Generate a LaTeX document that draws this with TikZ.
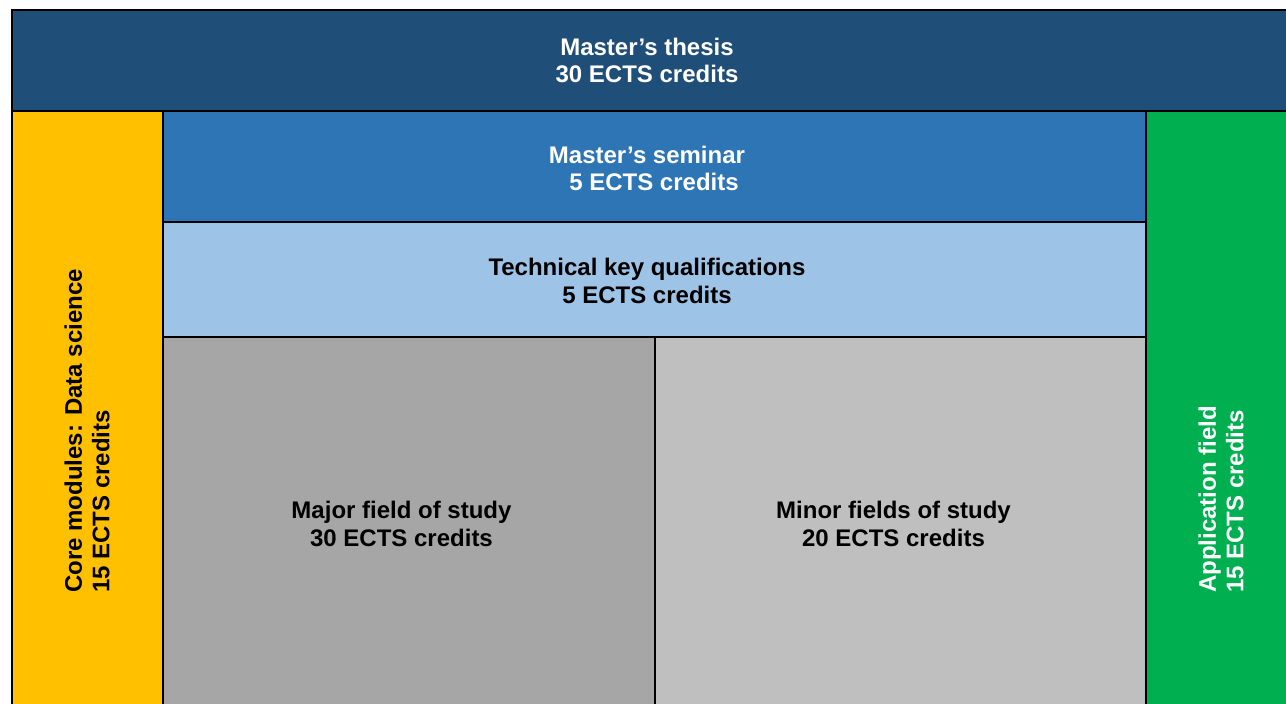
\documentclass[tikz,border=0pt]{standalone}
\usepackage{fontspec}
\setmainfont{Liberation Sans}
\usepackage{tikz}

\definecolor{thesisblue}{HTML}{1F4E79}
\definecolor{seminarblue}{HTML}{2E75B6}
\definecolor{keyblue}{HTML}{9DC3E6}
\definecolor{coreyellow}{HTML}{FFC000}
\definecolor{appgreen}{HTML}{00B050}
\definecolor{majorgray}{HTML}{A6A6A6}
\definecolor{minorgray}{HTML}{BFBFBF}

\tikzset{
  block/.style={draw=black,line width=2pt},
  label/.style={font=\bfseries\fontsize{24}{27.6}\selectfont,align=center,inner sep=0pt},
  sidelabel/.style={label,align=left,rotate=90,anchor=west}
}

\begin{document}
\begin{tikzpicture}[x=1pt,y=1pt]
			\clip (0,0) rectangle (1286,704);
			\filldraw[block,fill=thesisblue] (12,694) rectangle (1310,593);
			\filldraw[block,fill=coreyellow] (12,593) rectangle (163,-20);
			\filldraw[block,fill=seminarblue] (163,593) rectangle (1146,482);
			\filldraw[block,fill=keyblue] (163,482) rectangle (1146,367);
			\filldraw[block,fill=majorgray] (163,367) rectangle (655,-20);
			\filldraw[block,fill=minorgray] (655,367) rectangle (1146,-20);
			\filldraw[block,fill=appgreen] (1146,593) rectangle (1310,-20);
			\node[label,white] (thesis) at (647,643.5) {Master’s thesis\\30 ECTS credits};
			\node[label,white] (seminar) at (647,535.5) {Master’s seminar\\\hspace*{14pt}5 ECTS credits};
			\node[label] (keyqual) at (647,423) {Technical key qualifications\\5 ECTS credits};
			\node[label] (major) at (401.5,180) {Major field of study\\30 ECTS credits};
			\node[label] (minor) at (893.5,180) {Minor fields of study\\20 ECTS credits};
			\node[sidelabel] (core) at (87,111) {Core modules: Data science\\15 ECTS credits};
			\node[sidelabel,white] (appfield) at (1221,111) {Application field\\15 ECTS credits};
		\end{tikzpicture}
\end{document}
